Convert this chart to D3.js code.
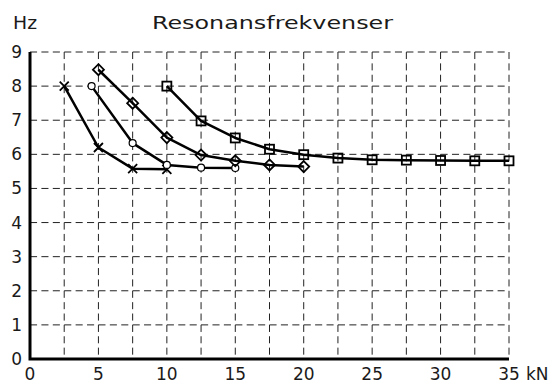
<!DOCTYPE html>
<html><head><meta charset="utf-8">
<script src="https://cdn.jsdelivr.net/npm/d3@7"></script>
<style>html,body{margin:0;padding:0;background:#fff;}svg{display:block;}</style>
</head><body>
<script>
const title = "Resonansfrekvenser";
const yUnit = "Hz", xUnit = "kN";
const xTicks = [0,5,10,15,20,25,30,35];
const yTicks = [0,1,2,3,4,5,6,7,8,9];
const xGrid = d3.range(2.5, 35.01, 2.5);
const seriesCross   = [[2.5,8.0],[5,6.2],[7.5,5.58],[10,5.56]];
const seriesCircle  = [[4.5,8.0],[7.5,6.33],[10,5.69],[12.5,5.61],[15,5.6]];
const seriesDiamond = [[5,8.48],[7.5,7.5],[10,6.49],[12.5,5.98],[15,5.81],[17.5,5.69],[20,5.64]];
const seriesSquare  = [[10,8.0],[12.5,6.98],[15,6.48],[17.5,6.15],[20,5.99],[22.5,5.89],[25,5.84],[27.5,5.83],[30,5.82],[32.5,5.81],[35,5.81]];

const W=557,H=383;
const svg=d3.select("body").append("svg").attr("width",W).attr("height",H);
const x=d3.scaleLinear().domain([0,35]).range([30,509]);
const y=d3.scaleLinear().domain([0,9]).range([359,52]);
const font="'DejaVu Sans', sans-serif";
const txtFill="#1a1a1a";

// grid
const cw = x(2.5)-x(0), ch = y(0)-y(1);
svg.append("g").selectAll("line").data(yTicks.slice(1)).join("line")
  .attr("x1",x(0)).attr("x2",x(35)).attr("y1",d=>y(d)).attr("y2",d=>y(d))
  .attr("stroke","#222").attr("stroke-width",1)
  .attr("stroke-dasharray",`${cw/3*0.62} ${cw/3*0.38}`);
svg.append("g").selectAll("line").data(xGrid).join("line")
  .attr("x1",d=>x(d)).attr("x2",d=>x(d)).attr("y1",y(9)).attr("y2",y(0))
  .attr("stroke","#222").attr("stroke-width",1)
  .attr("stroke-dasharray",`${ch/3*0.62} ${ch/3*0.38}`);

// axes
svg.append("path").attr("d",`M${x(0)},${y(9)}V${y(0)}H${x(35)}`)
  .attr("fill","none").attr("stroke","#000").attr("stroke-width",3);

// tick labels
svg.append("g").selectAll("text").data(yTicks).join("text")
  .attr("x",22).attr("y",d=>y(d)+6).attr("text-anchor","end").attr("fill",txtFill)
  .attr("font-family",font).attr("font-size",17).text(d=>d);
svg.append("g").selectAll("text").data(xTicks).join("text")
  .attr("x",d=>x(d)).attr("y",380).attr("text-anchor","middle").attr("fill",txtFill)
  .attr("font-family",font).attr("font-size",17).text(d=>d);
svg.append("text").attr("x",526).attr("y",380).attr("fill",txtFill).attr("font-family",font).attr("font-size",17).text(xUnit);
svg.append("text").attr("x",13).attr("y",29).attr("fill",txtFill).attr("font-family",font).attr("font-size",17)
  .attr("textLength",24).attr("lengthAdjust","spacingAndGlyphs").text(yUnit);
svg.append("text").attr("x",152).attr("y",29).attr("fill",txtFill).attr("font-family",font).attr("font-size",17)
  .attr("textLength",241).attr("lengthAdjust","spacingAndGlyphs").text(title);

// lines
const line=d3.line().x(d=>x(d[0])).y(d=>y(d[1]));
const all=[seriesCross,seriesCircle,seriesDiamond,seriesSquare];
all.forEach(s=>svg.append("path").attr("d",line(s)).attr("fill","none").attr("stroke","#000").attr("stroke-width",2.5).attr("stroke-linejoin","round"));

// markers
const mk=svg.append("g").attr("fill","none").attr("stroke","#000").attr("stroke-width",1.8);
mk.selectAll(".cr").data(seriesCross).join("path")
  .attr("d",d=>{const cx=x(d[0]),cy=y(d[1]),r=4.5;return `M${cx-r},${cy-r}L${cx+r},${cy+r}M${cx-r},${cy+r}L${cx+r},${cy-r}`;});
mk.selectAll(".ci").data(seriesCircle).join("circle")
  .attr("cx",d=>x(d[0])).attr("cy",d=>y(d[1])).attr("r",3.5).attr("fill","#fff").attr("stroke-width",1.2);
mk.selectAll(".di").data(seriesDiamond).join("path")
  .attr("d",d=>{const cx=x(d[0]),cy=y(d[1]),r=5.5;return `M${cx},${cy-r}L${cx+r},${cy}L${cx},${cy+r}L${cx-r},${cy}Z`;});
mk.selectAll(".sq").data(seriesSquare).join("rect")
  .attr("x",d=>x(d[0])-4.5).attr("y",d=>y(d[1])-4.5).attr("width",9).attr("height",9);
</script>
</body></html>
